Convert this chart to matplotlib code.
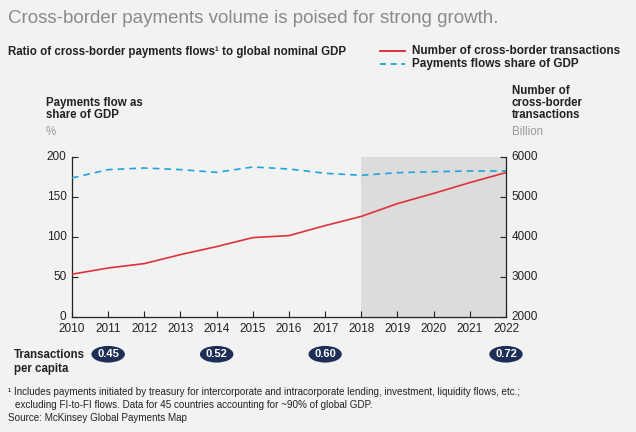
import matplotlib.pyplot as plt
import matplotlib.transforms as mtransforms

plt.rcParams['font.family'] = ['Liberation Sans', 'DejaVu Sans']

years = [2010, 2011, 2012, 2013, 2014, 2015, 2016, 2017, 2018, 2019, 2020, 2021, 2022]
transactions_bn = [3070, 3225, 3335, 3560, 3760, 3985, 4035, 4285, 4515, 4835, 5090, 5360, 5610]
share_of_gdp = [173.8, 184.2, 186.2, 184.2, 180.8, 187.5, 185.0, 179.6, 177.1, 180.4, 181.6, 182.5, 182.5]
per_capita_years = [2011, 2014, 2017, 2022]
per_capita = [0.45, 0.52, 0.60, 0.72]

bg = '#f2f2f2'
red = '#e0313b'
blue = '#1ea5dd'
navy = '#1d2f57'
dark = '#222222'
grey = '#9a9a9a'

fig = plt.figure(figsize=(6.36, 4.32), dpi=100, facecolor=bg)
ax = fig.add_axes([0.1132, 0.2662, 0.6824, 0.3704])
ax.set_facecolor(bg)
ax2 = ax.twinx()

ax.axvspan(2018, 2022, color='#dcdcdc', lw=0, zorder=0)
ax.plot(years, share_of_gdp, color=blue, lw=1.2, dashes=(4, 3), zorder=3)
ax2.plot(years, transactions_bn, color=red, lw=1.2, zorder=3)

ax.set_xlim(2010, 2022)
ax.set_ylim(0, 200)
ax2.set_ylim(2000, 6000)
ax.set_xticks(years)
ax.set_yticks([0, 50, 100, 150, 200])
ax2.set_yticks([2000, 3000, 4000, 5000, 6000])

# y tick labels sit a touch above their ticks, as in the original
shift_up = mtransforms.ScaledTranslation(0, 1.3 / 72, fig.dpi_scale_trans)
for a in (ax, ax2):
    a.spines['top'].set_visible(False)
    for s in a.spines.values():
        s.set_color(dark)
        s.set_linewidth(0.9)
    a.tick_params(direction='in', length=4, width=0.8, colors=dark, labelsize=8.5, pad=4)
    for lbl in a.get_yticklabels():
        lbl.set_transform(lbl.get_transform() + shift_up)
ax2.spines['left'].set_visible(False)
ax2.spines['bottom'].set_visible(False)
ax.spines['right'].set_visible(False)
ax.tick_params(axis='x', pad=4)
ax2.set_zorder(ax.get_zorder() + 1)
ax2.patch.set_visible(False)

# titles
fig.text(0.013, 0.958, 'Cross-border payments volume is poised for strong growth.',
         fontsize=13.5, color='#8a8a8a', va='center')
fig.text(0.013, 0.88, 'Ratio of cross-border payments flows¹ to global nominal GDP',
         fontsize=8.3, fontweight='bold', color=dark, va='center')

# legend
fig.lines.append(plt.Line2D([0.598, 0.637], [0.881, 0.881], transform=fig.transFigure, color=red, lw=1.4))
fig.lines.append(plt.Line2D([0.598, 0.637], [0.852, 0.852], transform=fig.transFigure, color=blue, lw=1.4, dashes=(3, 2.5)))
fig.text(0.648, 0.881, 'Number of cross-border transactions', fontsize=8.5, fontweight='bold', color=dark, va='center')
fig.text(0.648, 0.852, 'Payments flows share of GDP', fontsize=8.5, fontweight='bold', color=dark, va='center')

# axis titles
fig.text(0.072, 0.72, 'Payments flow as\nshare of GDP', fontsize=8.3, fontweight='bold', color=dark,
         va='bottom', linespacing=1.0)
fig.text(0.072, 0.68, '%', fontsize=8.3, color=grey, va='bottom')
fig.text(0.805, 0.72, 'Number of\ncross-border\ntransactions', fontsize=8.3, fontweight='bold', color=dark,
         va='bottom', linespacing=1.0)
fig.text(0.805, 0.68, 'Billion', fontsize=8.3, color=grey, va='bottom')

# transactions per capita
fig.text(0.022, 0.162, 'Transactions\nper capita', fontsize=8.3, fontweight='bold', color=dark,
         va='center', linespacing=1.3)
trans = mtransforms.blended_transform_factory(ax.transData, fig.transFigure)
for yr, v in zip(per_capita_years, per_capita):
    ax.text(yr, 0.18, '%.2f' % v, transform=trans, ha='center', va='center', fontsize=8,
            fontweight='bold', color='white', clip_on=False,
            bbox=dict(boxstyle='ellipse,pad=0.08', fc=navy, ec='none'))

# footnotes
fig.text(0.013, 0.092, '¹ Includes payments initiated by treasury for intercorporate and intracorporate lending, investment, liquidity flows, etc.;',
         fontsize=7.1, color=dark, va='center')
fig.text(0.024, 0.062, 'excluding FI-to-FI flows. Data for 45 countries accounting for ~90% of global GDP.',
         fontsize=7.1, color=dark, va='center')
fig.text(0.013, 0.032, 'Source: McKinsey Global Payments Map', fontsize=7.1, color=dark, va='center')

fig.savefig('out.png', dpi=100, facecolor=bg)
